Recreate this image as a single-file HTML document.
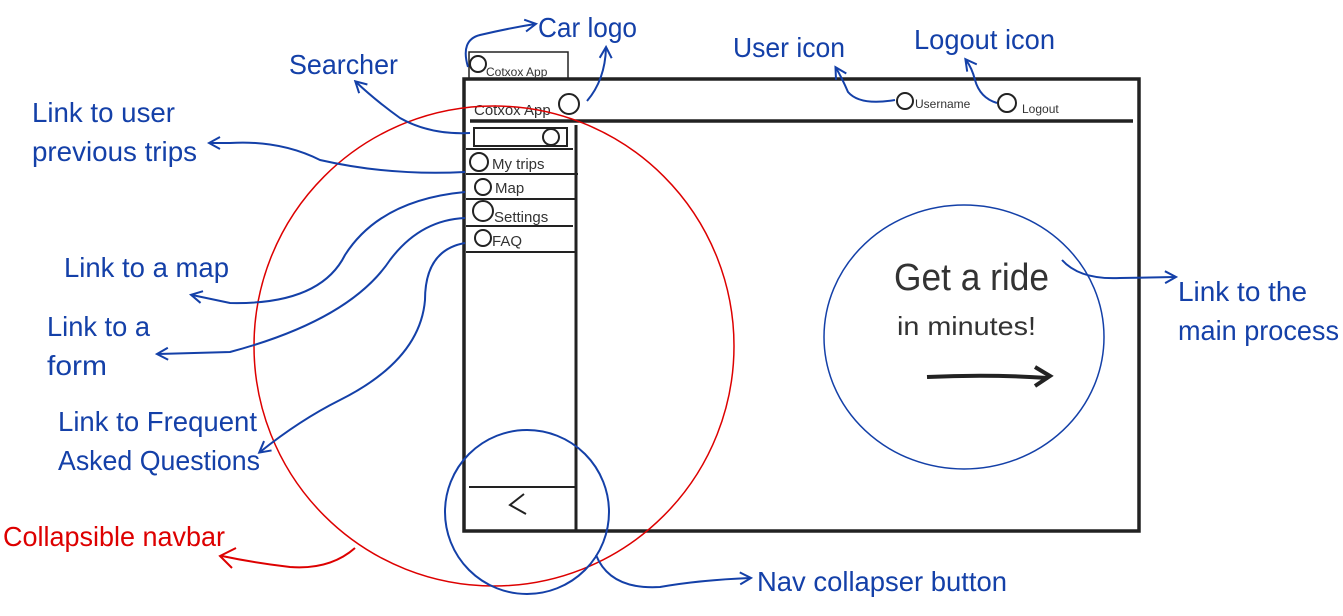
<!DOCTYPE html>
<html><head><meta charset="utf-8"><style>
html,body{margin:0;padding:0;background:#fff;width:1343px;height:616px;overflow:hidden}
svg{display:block}
.b{fill:#1440a8;font-family:"Liberation Sans",sans-serif;font-size:28px}
.k{fill:#333;font-family:"Liberation Sans",sans-serif}
</style></head><body>
<svg width="1343" height="616" viewBox="0 0 1343 616" xmlns="http://www.w3.org/2000/svg">
<defs>
<marker id="a" markerWidth="14" markerHeight="14" refX="11" refY="7" orient="auto" markerUnits="userSpaceOnUse">
<path d="M1,1 L12,7 L1,13" fill="none" stroke="#1440a8" stroke-width="2"/></marker>
</defs>
<!-- window -->
<g fill="none" stroke="#222">
<rect x="469" y="52" width="99" height="27" stroke-width="1.5"/>
<rect x="464" y="79" width="675" height="452" stroke-width="3.5"/>
<line x1="470" y1="121" x2="1133" y2="121" stroke-width="3.5"/>
<line x1="576" y1="125" x2="576" y2="530" stroke-width="3"/>
<rect x="474" y="128" width="93" height="18" stroke-width="2"/>
<circle cx="551" cy="137" r="8" stroke-width="2"/>
<line x1="466" y1="149" x2="573" y2="149" stroke-width="2"/>
<line x1="466" y1="174" x2="578" y2="174" stroke-width="2"/>
<line x1="466" y1="199" x2="576" y2="199" stroke-width="2"/>
<line x1="466" y1="226" x2="573" y2="226" stroke-width="2"/>
<line x1="466" y1="252" x2="576" y2="252" stroke-width="2"/>
<line x1="469" y1="487" x2="575" y2="487" stroke-width="2"/>
<circle cx="478" cy="64" r="8" stroke-width="2"/>
<circle cx="569" cy="104" r="10" stroke-width="2"/>
<circle cx="479" cy="162" r="9" stroke-width="2"/>
<circle cx="483" cy="187" r="8" stroke-width="2"/>
<circle cx="483" cy="211" r="10" stroke-width="2"/>
<circle cx="483" cy="238" r="8" stroke-width="2"/>
<circle cx="905" cy="101" r="8" stroke-width="2"/>
<circle cx="1007" cy="103" r="9" stroke-width="2"/>
<path d="M524,494 L510,505 L526,514" stroke-width="2"/>
<path d="M927,377 Q990,374 1048,378 M1035,367 L1050,376 L1035,386" stroke-width="4"/>
</g>
<g class="k" font-size="13">
<text x="486" y="76" font-size="12">Cotxox App</text>
<text x="474" y="115" font-size="15">Cotxox App</text>
<text x="492" y="169" font-size="15">My trips</text>
<text x="495" y="193" font-size="15">Map</text>
<text x="494" y="222" font-size="15">Settings</text>
<text x="492" y="246" font-size="15">FAQ</text>
<text x="915" y="108" font-size="12">Username</text>
<text x="1022" y="113" font-size="12">Logout</text>
<text x="894" y="290" font-size="38" textLength="155" lengthAdjust="spacingAndGlyphs">Get a ride</text>
<text x="897" y="335" font-size="26" textLength="139" lengthAdjust="spacingAndGlyphs">in minutes!</text>
</g>
<!-- circles -->
<circle cx="494" cy="346" r="240" fill="none" stroke="#d00" stroke-width="1.5"/>
<ellipse cx="964" cy="337" rx="140" ry="132" fill="none" stroke="#1440a8" stroke-width="1.5"/>
<circle cx="527" cy="512" r="82" fill="none" stroke="#1440a8" stroke-width="2"/>
<!-- connectors -->
<g fill="none" stroke="#1440a8" stroke-width="2" marker-end="url(#a)">
<path d="M468,67 Q460,40 480,35 Q510,28 535,24"/>
<path d="M587,101 Q605,80 606,48"/>
<path d="M470,133 Q430,135 400,118 Q375,100 356,82"/>
<path d="M895,100 Q860,106 848,92 Q842,78 836,68"/>
<path d="M997,103 Q980,98 975,80 Q972,68 966,60"/>
<path d="M465,172 Q390,176 320,160 Q280,140 230,143 L210,143"/>
<path d="M465,192 Q380,200 345,255 Q320,305 230,303 L192,295"/>
<path d="M465,218 Q420,220 390,260 Q350,320 230,352 L158,354"/>
<path d="M465,243 Q425,250 425,300 Q420,360 340,400 Q300,420 260,452"/>
<path d="M1062,260 Q1080,280 1120,278 L1175,277"/>
<path d="M596,555 Q610,590 660,587 Q700,580 750,578"/>
</g>
<path d="M355,548 Q330,570 290,567 Q255,563 222,556 M236,548 L220,556 L232,568" fill="none" stroke="#d00" stroke-width="2"/>
<!-- labels -->
<g class="b">
<text x="538" y="37" textLength="99" lengthAdjust="spacingAndGlyphs">Car logo</text>
<text x="289" y="74" textLength="109" lengthAdjust="spacingAndGlyphs">Searcher</text>
<text x="733" y="57" textLength="112" lengthAdjust="spacingAndGlyphs">User icon</text>
<text x="914" y="49" textLength="141" lengthAdjust="spacingAndGlyphs">Logout icon</text>
<text x="32" y="122" textLength="143" lengthAdjust="spacingAndGlyphs">Link to user</text>
<text x="32" y="161" textLength="165" lengthAdjust="spacingAndGlyphs">previous trips</text>
<text x="64" y="277" textLength="165" lengthAdjust="spacingAndGlyphs">Link to a map</text>
<text x="47" y="336" textLength="103" lengthAdjust="spacingAndGlyphs">Link to a</text>
<text x="47" y="375" textLength="60" lengthAdjust="spacingAndGlyphs">form</text>
<text x="58" y="431" textLength="199" lengthAdjust="spacingAndGlyphs">Link to Frequent</text>
<text x="58" y="470" textLength="202" lengthAdjust="spacingAndGlyphs">Asked Questions</text>
<text x="757" y="591" textLength="250" lengthAdjust="spacingAndGlyphs">Nav collapser button</text>
<text x="1178" y="301" textLength="129" lengthAdjust="spacingAndGlyphs">Link to the</text>
<text x="1178" y="340" textLength="161" lengthAdjust="spacingAndGlyphs">main process</text>
<text x="3" y="546" textLength="222" lengthAdjust="spacingAndGlyphs" style="fill:#d00">Collapsible navbar</text>
</g>
</svg>
</body></html>
